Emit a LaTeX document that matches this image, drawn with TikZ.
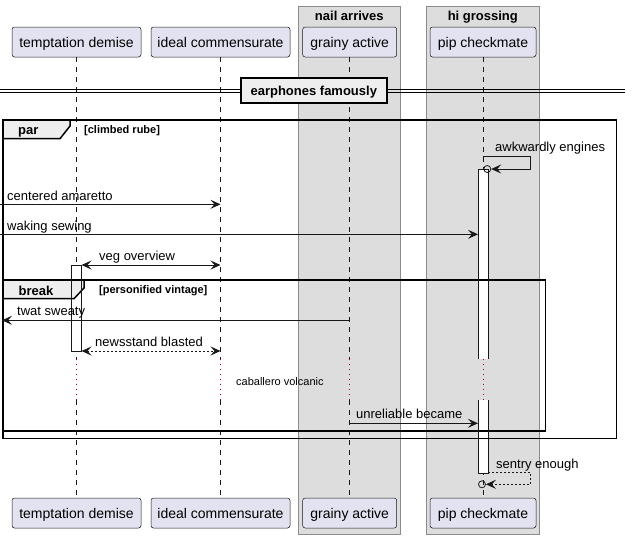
\documentclass[tikz,border=0pt]{standalone}
\usepackage{fontspec}
\setmainfont{Liberation Sans}
\usetikzlibrary{arrows.meta}

\definecolor{partfill}{HTML}{E2E2F0}
\definecolor{partline}{HTML}{181818}
\definecolor{boxfill}{HTML}{DDDDDD}
\definecolor{boxline}{HTML}{8C8C8C}
\definecolor{tabfill}{HTML}{EEEEEE}
\definecolor{delayred}{HTML}{A80036}

\tikzset{
  part/.style={draw=partline, line width=0.5pt, fill=partfill, rounded corners=2.5pt,
    minimum height=30pt, inner sep=0pt, text height=10pt, text depth=0pt,
    font=\fontsize{14}{16}\selectfont},
  boxframe/.style={draw=boxline, line width=0.8pt, fill=boxfill},
  boxtitle/.style={anchor=base, inner sep=0pt, font=\bfseries\fontsize{13}{15}\selectfont},
  lifeline/.style={draw=partline, line width=0.5pt, dash pattern=on 5pt off 5pt},
  delayline/.style={draw=delayred, line width=1pt, dash pattern=on 1pt off 4pt},
  msg/.style={draw=partline, line width=0.9pt, -{Stealth[length=10pt,width=9pt,inset=4pt]}},
  bimsg/.style={draw=partline, line width=0.9pt, {Stealth[length=10pt,width=9pt,inset=4pt]}-{Stealth[length=10pt,width=9pt,inset=4pt]}},
  retdash/.style={dash pattern=on 2pt off 2pt},
  msgtext/.style={anchor=base west, inner sep=0pt, font=\fontsize{13}{15}\selectfont},
  smalltext/.style={anchor=base west, inner sep=0pt, font=\fontsize{11}{13}\selectfont},
  condtext/.style={anchor=base west, inner sep=0pt, font=\bfseries\fontsize{11}{13}\selectfont},
  grouptext/.style={anchor=base west, inner sep=0pt, font=\bfseries\fontsize{13}{15}\selectfont},
  groupframe/.style={draw=black, line width=1.5pt},
  grouptab/.style={draw=black, line width=1.5pt, fill=tabfill},
  actbar/.style={draw=partline, line width=0.8pt},
  endcircle/.style={circle, draw=partline, line width=0.8pt, minimum size=7pt, inner sep=0pt},
}

\begin{document}
\begin{tikzpicture}[x=1pt,y=-1pt]
\useasboundingbox[fill=white] (0,0) rectangle (632,539);

% participant boxes
\draw[boxframe] (298,6) rectangle (400.5,534);
\node[boxtitle] (boxnail) at (349.3,20) {nail arrives};
\draw[boxframe] (426.3,6) rectangle (539.3,534);
\node[boxtitle] (boxhi) at (482.8,20) {hi grossing};

% participants, head and foot
\node[part, minimum width=129pt] (td) at (76.5,42) {temptation demise};
\node[part, minimum width=139pt] (ic) at (220.5,42) {ideal commensurate};
\node[part, minimum width=94pt]  (ga) at (349.7,42) {grainy active};
\node[part, minimum width=106pt] (pc) at (483,42) {pip checkmate};
\node[part, minimum width=129pt] (tdB) at (76.5,513) {temptation demise};
\node[part, minimum width=139pt] (icB) at (220.5,513) {ideal commensurate};
\node[part, minimum width=94pt]  (gaB) at (349.7,513) {grainy active};
\node[part, minimum width=106pt] (pcB) at (483,513) {pip checkmate};

% lifelines with the delay section
\coordinate (td-d1) at (76.5,358.5);  \coordinate (td-d2) at (76.5,400);
\coordinate (ic-d1) at (220.5,358.5); \coordinate (ic-d2) at (220.5,400);
\coordinate (ga-d1) at (349.7,358.5); \coordinate (ga-d2) at (349.7,400);
\coordinate (pc-d1) at (483,358.5);   \coordinate (pc-d2) at (483,400);
\foreach \p in {td,ic,ga,pc}{
  \draw[lifeline] (\p.south) -- (\p-d1);
  \draw[delayline] (\p-d1) -- (\p-d2);
  \draw[lifeline] (\p-d2) -- (\p B.north);
}

% separator
\draw[line width=1pt] (0,89) -- (625,89);
\draw[line width=1pt] (0,92.3) -- (625,92.3);
\node[draw=black, line width=1.5pt, fill=tabfill, minimum width=146pt, minimum height=25pt,
  inner sep=0pt, text height=9.5pt, text depth=0pt,
  font=\bfseries\fontsize{13}{15}\selectfont] (sep) at (313.8,90.4) {earphones famously};

% activation bar fills
\fill[white] (478,169.3) rectangle (488,359.3);
\fill[white] (478,400) rectangle (488,473.3);
\fill[white] (71.5,265) rectangle (81.5,351);

% par group
\draw[groupframe] (3,120) rectangle (616.7,438.3);
\draw[grouptab] (3,120) -- (70,120) -- (70,126) -- (60,138.7) -- (3,138.7) -- cycle;
\node[grouptext] (partag) at (18,134.5) {par};
\node[condtext] (parcond) at (84,133.5) {[climbed rube]};

% break group
\draw[groupframe] (3,280) rectangle (545.7,431);
\draw[grouptab] (3,280) -- (84,280) -- (84,288) -- (74,298.7) -- (3,298.7) -- cycle;
\node[grouptext] (brktag) at (18.5,295) {break};
\node[condtext] (brkcond) at (99,293) {[personified vintage]};

% activation bar outlines
\draw[actbar] (478,359.3) -- (478,169.3) -- (488,169.3) -- (488,359.3);
\draw[actbar] (478,400) -- (478,473.3) -- (488,473.3) -- (488,400);
\draw[actbar] (71.5,265) rectangle (81.5,351);

% message end points
\coordinate (awkA) at (483,156.7);
\coordinate (awkB) at (530,156.7);
\coordinate (awkC) at (530,169);
\node[endcircle] (awkO) at (487.3,169) {};
\coordinate (camA) at (0,204.3);
\coordinate (camB) at (220.5,204.3);
\coordinate (wakA) at (0,234.3);
\coordinate (wakB) at (478,234.3);
\coordinate (vegA) at (81.5,265);
\coordinate (vegB) at (220.5,265);
\coordinate (twaA) at (349.7,320.3);
\coordinate (twaB) at (2,320.3);
\coordinate (newA) at (81.5,351);
\coordinate (newB) at (220.5,351);
\coordinate (unrA) at (349.7,423.3);
\coordinate (unrB) at (478,423.3);
\coordinate (senA) at (488,472.7);
\coordinate (senB) at (530.7,472.7);
\coordinate (senC) at (530.7,484.3);
\node[endcircle] (senO) at (482,484.3) {};

% messages
\draw[msg] (awkA) -- (awkB) -- (awkC) -- (awkO.east);
\node[msgtext] (awkT) at (495,151) {awkwardly engines};
\draw[msg] (camA) -- (camB);
\node[msgtext] (camT) at (7,200) {centered amaretto};
\draw[msg] (wakA) -- (wakB);
\node[msgtext] (wakT) at (7,230) {waking sewing};
\draw[bimsg] (vegA) -- (vegB);
\node[msgtext] (vegT) at (99,260.5) {veg overview};
\draw[msg] (twaA) -- (twaB);
\node[msgtext] (twaT) at (17,315.5) {twat sweaty};
\draw[bimsg, retdash] (newA) -- (newB);
\node[msgtext] (newT) at (95,346.5) {newsstand blasted};
\node[smalltext] (cabT) at (236,385) {caballero volcanic};
\draw[msg] (unrA) -- (unrB);
\node[msgtext] (unrT) at (356,418.7) {unreliable became};
\draw[msg, retdash] (senA) -- (senB) -- (senC) -- (senO.east);
\node[msgtext] (senT) at (496,468) {sentry enough};

\end{tikzpicture}
\end{document}
